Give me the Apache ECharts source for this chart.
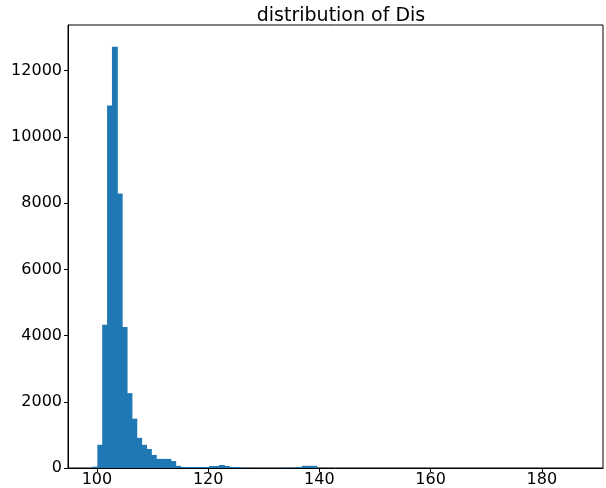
<!DOCTYPE html>
<html>
<head>
<meta charset="utf-8">
<script src="https://cdn.jsdelivr.net/npm/echarts@6/dist/echarts.min.js"></script>
<style>html,body{margin:0;padding:0;background:#fff}#c{width:606px;height:488px}</style>
</head>
<body>
<div id="c"></div>
<script>
// histogram: 100 bins starting at binStart, each binWidth wide
const binStart = 99.2;
const binWidth = 0.875;
const counts = [
  40, 700, 4330, 10950, 12720, 8290, 4260, 2260, 1490, 910,
  700, 575, 395, 275, 275, 275, 210, 65, 30, 30,
  30, 30, 30, 30, 60, 60, 90, 60, 30, 30,
  8, 5, 4, 3, 3, 2, 2, 3, 4, 6,
  10, 14, 30, 65, 65, 65, 8, 3, 2, 1,
  1, 1, 0, 1, 0, 0, 1, 0, 0, 0,
  0, 1, 0, 0, 0, 0, 0, 1, 0, 0,
  0, 0, 0, 0, 0, 0, 0, 0, 0, 0,
  0, 0, 0, 0, 0, 0, 0, 0, 0, 0,
  0, 0, 0, 0, 0, 0, 0, 0, 0, 1
];
const xTicks = [100, 120, 140, 160, 180];
const yTicks = [0, 2000, 4000, 6000, 8000, 10000, 12000];
const titleText = 'distribution of Dis';

const data = counts.map((c, i) => [binStart + i * binWidth, binStart + (i + 1) * binWidth, c]);

const chart = echarts.init(document.getElementById('c'), null, {renderer: 'canvas'});
const font = 'DejaVu Sans';
chart.setOption({
  animation: false,
  backgroundColor: '#fff',
  title: {
    text: titleText,
    left: 336, top: 2, textAlign: 'center',
    textStyle: {fontFamily: font, fontSize: 19, fontWeight: 'normal', color: '#000'}
  },
  grid: {left: 68, right: 3, top: 25, bottom: 20, show: true, borderColor: '#000', borderWidth: 1},
  xAxis: {
    type: 'value', min: 94.8, max: 191.0,
    splitLine: {show: false},
    axisLine: {show: true, onZero: false, lineStyle: {color: '#000', width: 1}},
    axisTick: {show: true, length: 4, lineStyle: {color: '#000'}, customValues: xTicks},
    axisLabel: {customValues: xTicks, fontFamily: font, fontSize: 16, color: '#000', margin: 4,
      formatter: v => String(v)}
  },
  yAxis: {
    type: 'value', min: 0, max: 13380,
    splitLine: {show: false},
    axisLine: {show: true, lineStyle: {color: '#000', width: 1}},
    axisTick: {show: true, length: 4, lineStyle: {color: '#000'}, customValues: yTicks},
    axisLabel: {customValues: yTicks, fontFamily: font, fontSize: 16, color: '#000', margin: 6,
      formatter: v => String(v)}
  },
  series: [{
    type: 'custom',
    encode: {x: [0, 1], y: 2},
    data: data,
    clip: true,
    renderItem: function (params, api) {
      if (!api.value(2)) return null;
      const p0 = api.coord([api.value(0), api.value(2)]);
      const p1 = api.coord([api.value(1), 0]);
      return {
        type: 'rect',
        shape: {x: p0[0], y: p0[1], width: p1[0] - p0[0] + 1, height: p1[1] - p0[1]},
        style: {fill: '#1f77b4', stroke: null}
      };
    }
  }]
});
</script>
</body>
</html>
